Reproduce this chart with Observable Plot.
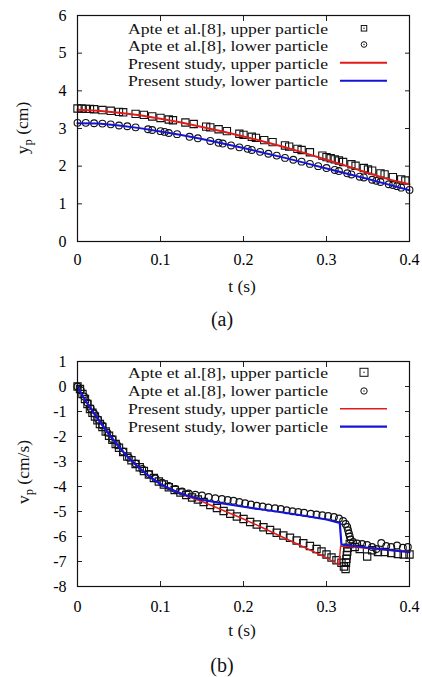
<!DOCTYPE html>
<html><head><meta charset="utf-8">
<script src="https://cdn.jsdelivr.net/npm/d3@7"></script>
<script src="https://cdn.jsdelivr.net/npm/@observablehq/plot@0.6"></script>
<style>
body{margin:0;background:#fff;}
#wrap{position:relative;width:422px;height:677px;overflow:hidden;background:#fff;}
#wrap svg{position:absolute;left:0;}
</style></head><body><div id="wrap"></div>
<script>
// ---------- (a) particle position y_p (cm) ----------
const aUpperExpT = [0,0.005,0.01,0.015,0.02,0.03,0.04,0.05,0.055,0.07,0.08,0.09,0.1,0.11,0.115,0.13,0.14,0.155,0.16,0.17,0.18,0.195,0.2,0.21,0.215,0.225,0.235,0.25,0.255,0.265,0.27,0.28,0.295,0.3,0.305,0.31,0.315,0.32,0.33,0.335,0.345,0.35,0.355,0.365,0.37,0.38,0.39,0.395];
const aUpperExpY = [3.53,3.53,3.52,3.52,3.51,3.49,3.47,3.44,3.43,3.39,3.36,3.32,3.28,3.24,3.22,3.16,3.12,3.05,3.03,2.98,2.93,2.86,2.83,2.78,2.75,2.69,2.64,2.55,2.52,2.46,2.43,2.37,2.28,2.24,2.21,2.18,2.15,2.11,2.05,2.01,1.95,1.91,1.88,1.81,1.78,1.71,1.65,1.62];
const aLowerExpT = [0,0.01,0.02,0.03,0.04,0.05,0.06,0.07,0.085,0.09,0.1,0.105,0.11,0.12,0.135,0.145,0.16,0.17,0.175,0.185,0.195,0.205,0.21,0.22,0.23,0.24,0.25,0.26,0.27,0.28,0.29,0.3,0.31,0.315,0.325,0.33,0.34,0.345,0.355,0.36,0.365,0.375,0.38,0.385,0.39,0.4];
const aLowerExpY = [3.15,3.15,3.14,3.13,3.11,3.08,3.06,3.03,2.98,2.96,2.93,2.91,2.88,2.85,2.78,2.74,2.67,2.62,2.6,2.55,2.5,2.46,2.43,2.38,2.33,2.28,2.22,2.17,2.12,2.06,2.0,1.95,1.9,1.87,1.81,1.78,1.72,1.7,1.64,1.61,1.58,1.52,1.5,1.47,1.43,1.37];
const aModelT = [0,0.025,0.05,0.075,0.1,0.125,0.15,0.175,0.2,0.225,0.25,0.275,0.3,0.325,0.35,0.375,0.4];
const aUpperModelY = [3.50,3.47,3.42,3.35,3.26,3.16,3.04,2.92,2.79,2.65,2.5,2.34,2.17,2.0,1.82,1.65,1.52];
const aLowerModelY = [3.14,3.13,3.08,3.01,2.92,2.83,2.72,2.6,2.48,2.35,2.22,2.08,1.94,1.8,1.66,1.51,1.36];
const aXTicks = [0,0.1,0.2,0.3,0.4];
const aYTicks = [0,1,2,3,4,5,6];

// ---------- (b) particle velocity v_p (cm/s) ----------
const bUpperExpT = [0,0.003,0.006,0.009,0.012,0.015,0.018,0.021,0.024,0.027,0.03,0.034,0.038,0.042,0.046,0.05,0.055,0.06,0.065,0.07,0.075,0.08,0.086,0.092,0.098,0.104,0.11,0.117,0.124,0.131,0.138,0.145,0.152,0.16,0.168,0.176,0.184,0.192,0.2,0.208,0.216,0.224,0.232,0.24,0.248,0.256,0.264,0.272,0.28,0.288,0.294,0.3,0.306,0.312,0.318,0.321,0.323,0.3235,0.324,0.3245,0.325,0.3255,0.328,0.334,0.34,0.349,0.355,0.362,0.37,0.378,0.386,0.393,0.4];
const bUpperExpY = [0,-0.1,-0.3,-0.5,-0.7,-0.9,-1.05,-1.2,-1.35,-1.5,-1.62,-1.8,-1.97,-2.13,-2.3,-2.45,-2.62,-2.8,-2.95,-3.1,-3.23,-3.38,-3.52,-3.66,-3.8,-3.92,-4.03,-4.14,-4.24,-4.34,-4.44,-4.52,-4.62,-4.74,-4.86,-4.98,-5.09,-5.2,-5.3,-5.42,-5.52,-5.63,-5.74,-5.85,-5.96,-6.05,-6.16,-6.27,-6.38,-6.5,-6.6,-6.72,-6.84,-6.95,-7.05,-7.2,-7.3,-7.05,-6.9,-6.75,-6.6,-6.45,-6.3,-6.42,-6.5,-6.8,-6.55,-6.62,-6.62,-6.66,-6.7,-6.72,-6.72];
const bLowerExpT = [0,0.004,0.008,0.012,0.016,0.02,0.025,0.03,0.036,0.042,0.048,0.055,0.062,0.07,0.078,0.086,0.094,0.102,0.11,0.118,0.126,0.134,0.142,0.15,0.158,0.166,0.174,0.181,0.188,0.195,0.202,0.209,0.216,0.223,0.23,0.238,0.245,0.252,0.259,0.266,0.273,0.281,0.288,0.295,0.302,0.309,0.315,0.32,0.323,0.325,0.326,0.327,0.328,0.329,0.332,0.337,0.343,0.349,0.355,0.36,0.366,0.372,0.378,0.385,0.392,0.398];
const bLowerExpY = [0,-0.15,-0.4,-0.65,-0.88,-1.08,-1.32,-1.56,-1.85,-2.1,-2.35,-2.6,-2.85,-3.08,-3.3,-3.5,-3.68,-3.85,-3.98,-4.1,-4.2,-4.28,-4.33,-4.36,-4.42,-4.47,-4.5,-4.54,-4.57,-4.62,-4.67,-4.72,-4.77,-4.8,-4.84,-4.87,-4.9,-4.95,-4.99,-5.02,-5.05,-5.09,-5.12,-5.15,-5.18,-5.22,-5.28,-5.38,-5.5,-5.62,-5.75,-5.88,-6.0,-6.12,-6.22,-6.28,-6.3,-6.34,-6.42,-6.5,-6.26,-6.38,-6.42,-6.36,-6.45,-6.42];
const bUpperModelT = [0,0.005,0.01,0.02,0.03,0.04,0.05,0.06,0.07,0.08,0.09,0.1,0.11,0.12,0.13,0.14,0.15,0.175,0.2,0.225,0.25,0.275,0.3,0.315,0.317,0.35,0.375,0.4];
const bUpperModelY = [0,-0.3,-0.58,-1.08,-1.55,-2.0,-2.42,-2.8,-3.12,-3.42,-3.68,-3.9,-4.07,-4.22,-4.36,-4.48,-4.6,-4.95,-5.3,-5.68,-6.07,-6.46,-6.85,-7.13,-6.38,-6.47,-6.55,-6.6];
const bLowerModelT = [0,0.005,0.01,0.02,0.03,0.04,0.05,0.06,0.07,0.08,0.09,0.1,0.11,0.12,0.13,0.14,0.15,0.175,0.2,0.225,0.25,0.275,0.3,0.316,0.318,0.35,0.375,0.4];
const bLowerModelY = [0,-0.3,-0.58,-1.08,-1.55,-2.0,-2.42,-2.8,-3.12,-3.42,-3.68,-3.9,-4.07,-4.22,-4.34,-4.44,-4.53,-4.68,-4.81,-4.93,-5.05,-5.18,-5.32,-5.46,-6.32,-6.45,-6.54,-6.63];
const bXTicks = [0,0.1,0.2,0.3,0.4];
const bYTicks = [-8,-7,-6,-5,-4,-3,-2,-1,0,1];

const legendLabels = ["Apte et al.[8], upper particle","Apte et al.[8], lower particle","Present study, upper particle","Present study, lower particle"];

const rows = (ts, vs) => ts.map((t, i) => ({t, v: vs[i]}));
const FONT = '"Liberation Serif","Times New Roman",serif';
const RED = "#e41a1a", BLUE = "#1414d8";
const fmt = d => String(d);

function makePlot({xTicks, yTicks, yDomain, top, height, mT, mB, xPad, series, redW, blueW}) {
  const tk = -5;
  const svg = Plot.plot({
    width: 422, height,
    marginLeft: 77, marginRight: 13, marginTop: mT, marginBottom: mB,
    style: {fontFamily: FONT, fontSize: "16px", color: "#000", background: "transparent", overflow: "visible"},
    x: {domain: [0, 0.4]},
    y: {domain: yDomain},
    marks: [
      Plot.axisX({ticks: xTicks, tickSize: tk, tickPadding: xPad, tickFormat: fmt, label: null, stroke: "#222"}),
      Plot.axisX({anchor: "top", ticks: xTicks, tickSize: tk, tickFormat: () => "", label: null, stroke: "#222"}),
      Plot.axisY({ticks: yTicks, tickSize: tk, tickPadding: 16, tickFormat: fmt, label: null, stroke: "#222"}),
      Plot.axisY({anchor: "right", ticks: yTicks, tickSize: tk, tickFormat: () => "", label: null, stroke: "#222"}),
      Plot.dot(series.upperExp, {x: "t", y: "v", symbol: "square", r: 4.1, stroke: "#111", strokeWidth: 1.1, fill: "none"}),
      Plot.dot(series.lowerExp, {x: "t", y: "v", symbol: "circle", r: 3.4, stroke: "#111", strokeWidth: 1.1, fill: "none"}),
      Plot.line(series.upperModel, {x: "t", y: "v", stroke: RED, strokeWidth: redW}),
      Plot.line(series.lowerModel, {x: "t", y: "v", stroke: BLUE, strokeWidth: blueW}),
      Plot.frame({stroke: "#111", strokeWidth: 1.2})
    ]
  });
  svg.style.top = top + "px";
  return svg;
}

const wrap = document.getElementById("wrap");
wrap.appendChild(makePlot({
  xTicks: aXTicks, yTicks: aYTicks, yDomain: [0, 6], top: 0, height: 300, mT: 15, mB: 59, xPad: 17.5,
  redW: 2, blueW: 2,
  series: {upperExp: rows(aUpperExpT, aUpperExpY), lowerExp: rows(aLowerExpT, aLowerExpY),
           upperModel: rows(aModelT, aUpperModelY), lowerModel: rows(aModelT, aLowerModelY)}
}));
wrap.appendChild(makePlot({
  xTicks: bXTicks, yTicks: bYTicks, yDomain: [-8, 1], top: 330, height: 300, mT: 31, mB: 44, xPad: 19.5,
  redW: 1.4, blueW: 2.2,
  series: {upperExp: rows(bUpperExpT, bUpperExpY), lowerExp: rows(bLowerExpT, bLowerExpY),
           upperModel: rows(bUpperModelT, bUpperModelY), lowerModel: rows(bLowerModelT, bLowerModelY)}
}));

// overlay: legends, axis titles, captions
const ov = d3.create("svg").attr("width", 422).attr("height", 677)
  .style("top", "0px").style("font-family", FONT).style("pointer-events", "none");

function legend(baselines, symY, symSize, redW, blueW) {
  const g = ov.append("g");
  legendLabels.forEach((lab, i) => {
    g.append("text").attr("x", 328).attr("y", baselines[i]).attr("text-anchor", "end")
      .attr("font-size", 15.5).attr("textLength", 200).attr("lengthAdjust", "spacingAndGlyphs")
      .attr("fill", "#111").text(lab);
  });
  const s = symSize.sq;
  g.append("rect").attr("x", 364 - s / 2).attr("y", symY[0] - s / 2).attr("width", s).attr("height", s)
    .attr("fill", "none").attr("stroke", "#111").attr("stroke-width", 1);
  g.append("circle").attr("cx", 364).attr("cy", symY[1]).attr("r", symSize.ci)
    .attr("fill", "none").attr("stroke", "#111").attr("stroke-width", 1);
  g.append("circle").attr("cx", 364).attr("cy", symY[0]).attr("r", 0.7).attr("fill", "#111");
  g.append("circle").attr("cx", 364).attr("cy", symY[1]).attr("r", 0.7).attr("fill", "#111");
  g.append("line").attr("x1", 340).attr("x2", 387).attr("y1", symY[2]).attr("y2", symY[2])
    .attr("stroke", RED).attr("stroke-width", redW);
  g.append("line").attr("x1", 340).attr("x2", 387).attr("y1", symY[3]).attr("y2", symY[3])
    .attr("stroke", BLUE).attr("stroke-width", blueW);
}
legend([34, 51.4, 68.8, 86.2], [28.3, 44.5, 62.7, 80.7], {sq: 5.5, ci: 2.8}, 2, 2);
legend([378.3, 396, 414.3, 431.7], [372.3, 391, 408.7, 426.7], {sq: 8, ci: 3.2}, 1.4, 2.2);

function yTitle(cx, cy, main, unit) {
  const t = ov.append("text").attr("transform", `translate(${cx},${cy}) rotate(-90)`)
    .attr("text-anchor", "middle").attr("font-size", 17.5).attr("fill", "#111");
  t.append("tspan").text(main);
  t.append("tspan").attr("font-size", 12.5).attr("dy", 4).text("p");
  t.append("tspan").attr("dy", -4).text(" " + unit);
}
yTitle(28, 128, "y", "(cm)");
yTitle(29, 472, "v", "(cm/s)");

ov.append("text").attr("x", 242).attr("y", 292).attr("text-anchor", "middle").attr("font-size", 17.5).attr("fill", "#111").text("t (s)");
ov.append("text").attr("x", 242).attr("y", 636).attr("text-anchor", "middle").attr("font-size", 17.5).attr("fill", "#111").text("t (s)");
ov.append("text").attr("x", 222).attr("y", 326).attr("text-anchor", "middle").attr("font-size", 20).attr("fill", "#111").text("(a)");
ov.append("text").attr("x", 222).attr("y", 672).attr("text-anchor", "middle").attr("font-size", 20).attr("fill", "#111").text("(b)");

wrap.appendChild(ov.node());
</script>
</body></html>
